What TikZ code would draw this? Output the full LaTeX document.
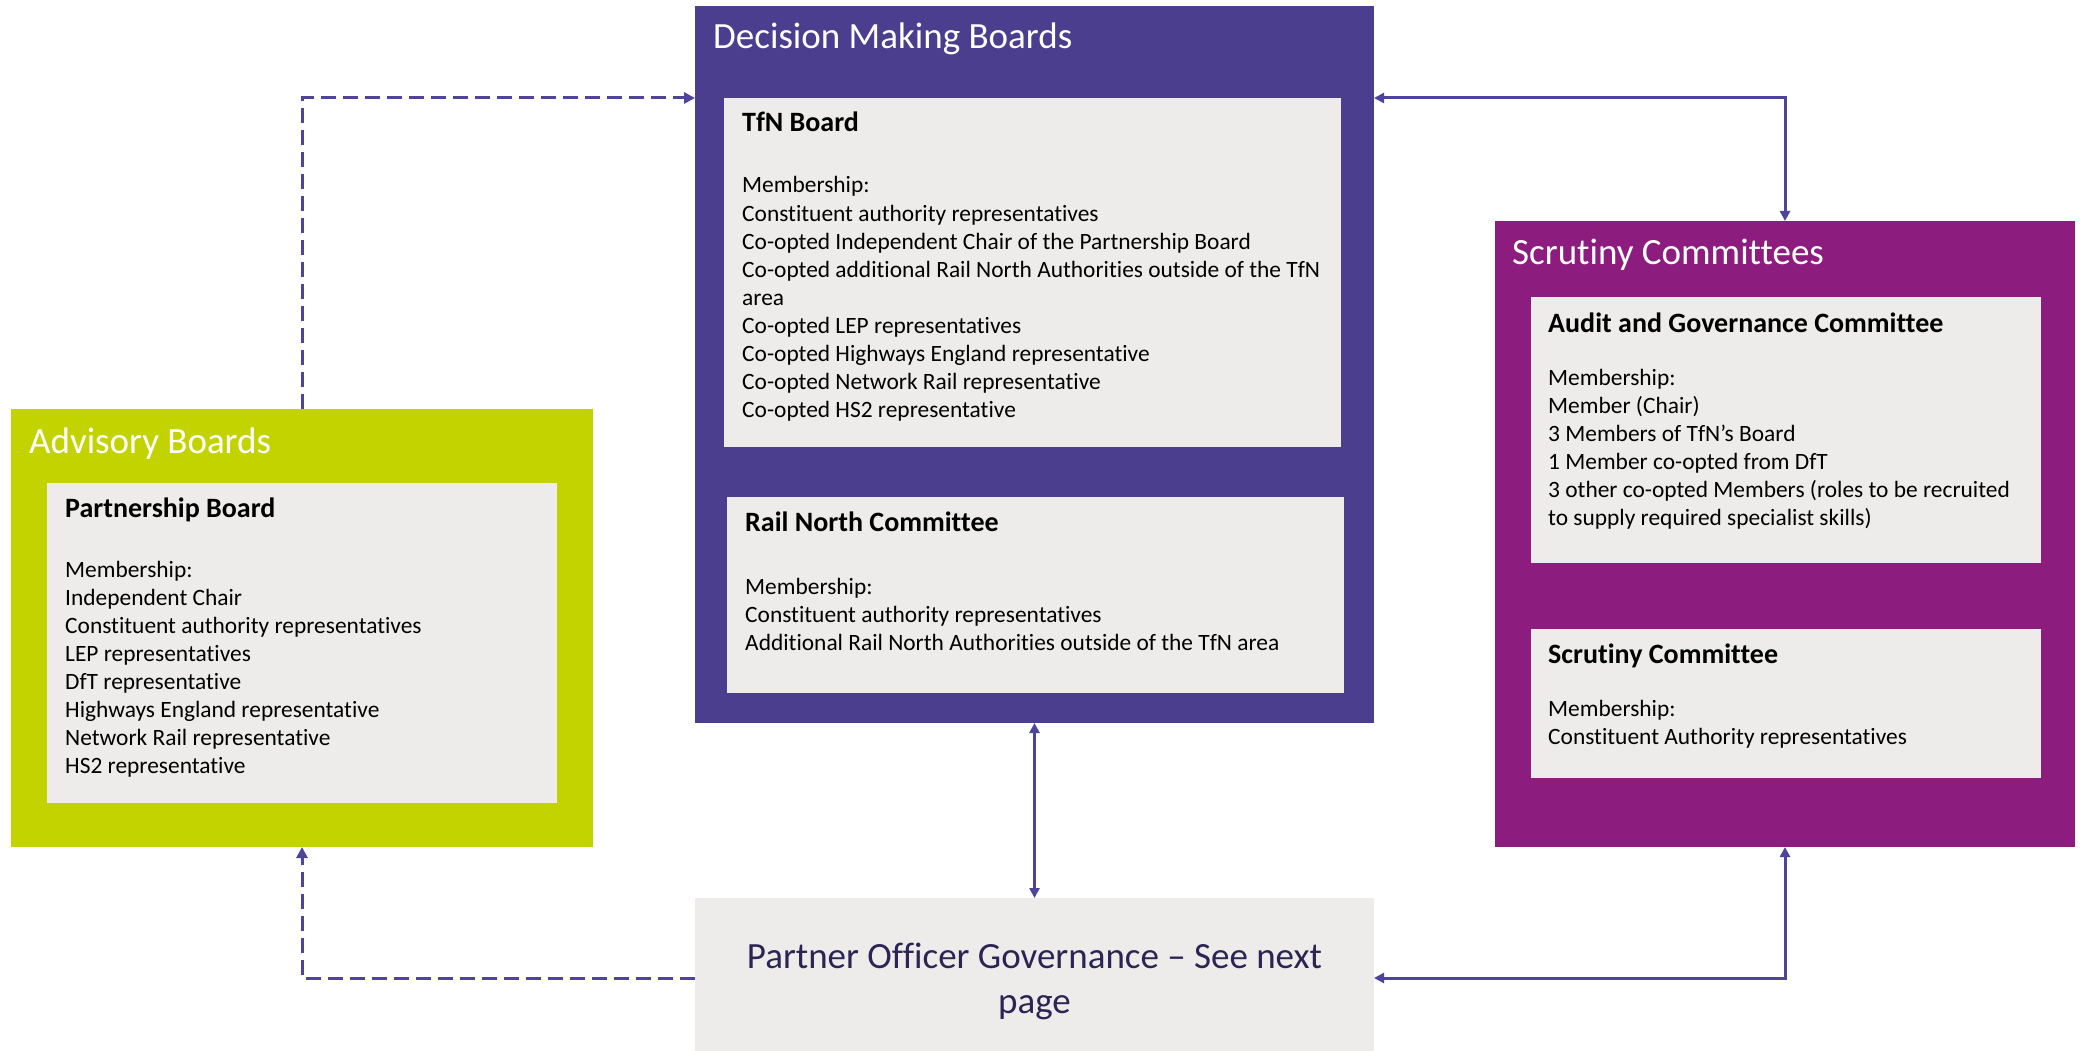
\documentclass[tikz,border=0pt]{standalone}
\usepackage{fontspec}
\setmainfont{Carlito}[Ligatures=NoCommon]
\usetikzlibrary{arrows.meta}
\definecolor{dmbc}{HTML}{4B3E8E}
\definecolor{advc}{HTML}{C3D300}
\definecolor{scrc}{HTML}{8C1D7F}
\definecolor{boxg}{HTML}{EDECEA}
\definecolor{arrc}{HTML}{4E449B}
\definecolor{pogt}{HTML}{2C2553}
\begin{document}
\begin{tikzpicture}[x=1pt,y=-1pt,
  panel/.style={draw=none, fill=#1, anchor=north west, inner sep=0pt, outer sep=0pt},
  headtext/.style={anchor=base west, inner sep=0pt, text=white, font=\fontsize{37}{44}\selectfont},
  titletext/.style={anchor=base west, inner sep=0pt, text=black, font=\bfseries\fontsize{28}{33}\selectfont},
  bodytext/.style={anchor=base west, inner sep=0pt, text=black, text width=620pt, align=flush left, font=\fontsize{23.4}{28.1}\selectfont},
  pogtext/.style={anchor=base, inner sep=0pt, text=pogt, text width=660pt, align=flush center, font=\fontsize{37}{45}\selectfont},
  solidarr/.style={draw=arrc, line width=3pt, {Triangle[length=10pt,width=10pt]}-{Triangle[length=10pt,width=10pt]}},
  dasharr/.style={draw=arrc, line width=3pt, dash pattern=on 15pt off 7pt, -{Triangle[length=11pt,width=11pt]}}
]
\useasboundingbox (0,0) rectangle (2082,1051);
\fill[white] (0,0) rectangle (2082,1051);

% Decision Making Boards
\node[panel=dmbc, minimum width=679pt, minimum height=717pt] (dmb) at (695,6) {};
\node[headtext] (dmbH) at (713,49) {Decision Making Boards};
\node[panel=boxg, minimum width=617pt, minimum height=349pt] (tfn) at (724,98) {};
\node[titletext] (tfnT) at (742,132) {TfN Board};
\node[bodytext] (tfnM) at (742,193) {Membership:\\
Constituent authority representatives\\
Co-opted Independent Chair of the Partnership Board\\
Co-opted additional Rail North Authorities outside of the TfN\\
area\\
Co-opted LEP representatives\\
Co-opted Highways England representative\\
Co-opted Network Rail representative\\
Co-opted HS2 representative};
\node[panel=boxg, minimum width=617pt, minimum height=196pt] (rnc) at (727,497) {};
\node[titletext] (rncT) at (745,531) {Rail North Committee};
\node[bodytext] (rncM) at (745,594) {Membership:\\
Constituent authority representatives\\
Additional Rail North Authorities outside of the TfN area};

% Advisory Boards
\node[panel=advc, minimum width=582pt, minimum height=438pt] (adv) at (11,409) {};
\node[headtext] (advH) at (29,453) {Advisory Boards};
\node[panel=boxg, minimum width=510pt, minimum height=320pt] (pb) at (47,483) {};
\node[titletext] (pbT) at (65,517) {Partnership Board};
\node[bodytext] (pbM) at (65,577) {Membership:\\
Independent Chair\\
Constituent authority representatives\\
LEP representatives\\
DfT representative\\
Highways England representative\\
Network Rail representative\\
HS2 representative};

% Scrutiny Committees
\node[panel=scrc, minimum width=580pt, minimum height=626pt] (scr) at (1495,221) {};
\node[headtext] (scrH) at (1512,264) {Scrutiny Committees};
\node[panel=boxg, minimum width=510pt, minimum height=266pt] (agc) at (1531,297) {};
\node[titletext] (agcT) at (1548,332) {Audit and Governance Committee};
\node[bodytext] (agcM) at (1548,385) {Membership:\\
Member (Chair)\\
3 Members of TfN’s Board\\
1 Member co-opted from DfT\\
3 other co-opted Members (roles to be recruited\\
to supply required specialist skills)};
\node[panel=boxg, minimum width=510pt, minimum height=149pt] (sc) at (1531,629) {};
\node[titletext] (scT) at (1548,663) {Scrutiny Committee};
\node[bodytext] (scM) at (1548,716) {Membership:\\
Constituent Authority representatives};

% Partner Officer Governance
\node[panel=boxg, minimum width=679pt, minimum height=160pt] (pog) at (695,898) {};
\node[pogtext] (pogT) at (1034.5,968) {Partner Officer Governance – See next\\ page};

% Connectors
\draw[dasharr] (adv.north) |- (dmb.west |- tfn.north);
\draw[dasharr] (pog.west) -| (adv.south);
\draw[solidarr] (dmb.east |- tfn.north) -| (scr.north);
\draw[solidarr] (dmb.south) -- (pog.north);
\draw[solidarr] (scr.south) |- (pog.east);
\end{tikzpicture}
\end{document}
